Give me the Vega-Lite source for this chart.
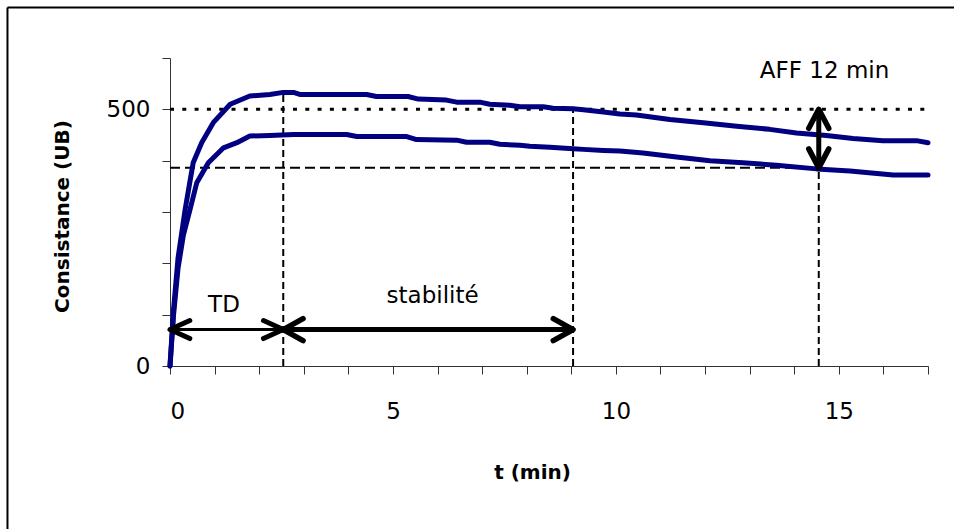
{
  "$schema": "https://vega.github.io/schema/vega-lite/v6.json",
  "autosize": {"type": "none"},
  "width": 758,
  "height": 308,
  "padding": {"left": 170, "top": 58, "right": 26, "bottom": 163},
  "background": "white",
  "config": {
    "view": {"stroke": null},
    "axis": {"labelFont": "DejaVu Sans", "labelFontSize": 23, "labelColor": "black", "titleFont": "DejaVu Sans", "titleFontSize": 20, "titleFontWeight": "bold", "titleColor": "black", "domainColor": "#333", "tickColor": "#333", "grid": false, "tickSize": 8}
  },
  "datasets": {
    "curves": [
      {"s": "A", "t": 0, "v": 0}, {"s": "A", "t": 0.08, "v": 110}, {"s": "A", "t": 0.18, "v": 210}, {"s": "A", "t": 0.34, "v": 305}, {"s": "A", "t": 0.52, "v": 396}, {"s": "A", "t": 0.71, "v": 435}, {"s": "A", "t": 0.97, "v": 474}, {"s": "A", "t": 1.35, "v": 510}, {"s": "A", "t": 1.79, "v": 526}, {"s": "A", "t": 2.24, "v": 529}, {"s": "A", "t": 2.54, "v": 533}, {"s": "A", "t": 2.77, "v": 533}, {"s": "A", "t": 2.91, "v": 529}, {"s": "A", "t": 4.41, "v": 529}, {"s": "A", "t": 4.63, "v": 525}, {"s": "A", "t": 5.34, "v": 525}, {"s": "A", "t": 5.57, "v": 520}, {"s": "A", "t": 6.2, "v": 518}, {"s": "A", "t": 6.43, "v": 514}, {"s": "A", "t": 6.95, "v": 514}, {"s": "A", "t": 7.17, "v": 510}, {"s": "A", "t": 7.62, "v": 508}, {"s": "A", "t": 7.85, "v": 505}, {"s": "A", "t": 8.37, "v": 505}, {"s": "A", "t": 8.59, "v": 502}, {"s": "A", "t": 9.04, "v": 501}, {"s": "A", "t": 9.27, "v": 499}, {"s": "A", "t": 9.72, "v": 495}, {"s": "A", "t": 10.09, "v": 491}, {"s": "A", "t": 10.46, "v": 489}, {"s": "A", "t": 11.21, "v": 480}, {"s": "A", "t": 11.96, "v": 474}, {"s": "A", "t": 12.71, "v": 467}, {"s": "A", "t": 13.45, "v": 461}, {"s": "A", "t": 14.05, "v": 454}, {"s": "A", "t": 14.72, "v": 449}, {"s": "A", "t": 15.32, "v": 443}, {"s": "A", "t": 15.99, "v": 439}, {"s": "A", "t": 16.74, "v": 439}, {"s": "A", "t": 17, "v": 435},
      {"s": "B", "t": 0, "v": 0}, {"s": "B", "t": 0.08, "v": 100}, {"s": "B", "t": 0.18, "v": 190}, {"s": "B", "t": 0.3, "v": 255}, {"s": "B", "t": 0.45, "v": 305}, {"s": "B", "t": 0.6, "v": 357}, {"s": "B", "t": 0.86, "v": 396}, {"s": "B", "t": 1.2, "v": 425}, {"s": "B", "t": 1.5, "v": 435}, {"s": "B", "t": 1.79, "v": 448}, {"s": "B", "t": 2.24, "v": 449}, {"s": "B", "t": 2.77, "v": 451}, {"s": "B", "t": 3.96, "v": 451}, {"s": "B", "t": 4.19, "v": 447}, {"s": "B", "t": 5.31, "v": 447}, {"s": "B", "t": 5.53, "v": 441}, {"s": "B", "t": 6.43, "v": 440}, {"s": "B", "t": 6.65, "v": 436}, {"s": "B", "t": 7.17, "v": 436}, {"s": "B", "t": 7.4, "v": 432}, {"s": "B", "t": 7.85, "v": 430}, {"s": "B", "t": 8.07, "v": 428}, {"s": "B", "t": 8.52, "v": 426}, {"s": "B", "t": 9.04, "v": 423}, {"s": "B", "t": 9.27, "v": 422}, {"s": "B", "t": 9.72, "v": 420}, {"s": "B", "t": 10.09, "v": 419}, {"s": "B", "t": 10.61, "v": 415}, {"s": "B", "t": 11.36, "v": 407}, {"s": "B", "t": 12.11, "v": 400}, {"s": "B", "t": 12.85, "v": 396}, {"s": "B", "t": 13.6, "v": 391}, {"s": "B", "t": 14.5, "v": 384}, {"s": "B", "t": 15.25, "v": 380}, {"s": "B", "t": 16.22, "v": 372}, {"s": "B", "t": 17, "v": 372}
    ],
    "refs": [
      {"kind": "dotted", "t": 0, "t2": 17, "v": 500, "v2": 500},
      {"kind": "dashed", "t": 0, "t2": 14.55, "v": 386, "v2": 386},
      {"kind": "vdash", "t": 2.54, "t2": 2.54, "v": 0, "v2": 533},
      {"kind": "vdash", "t": 9.04, "t2": 9.04, "v": 0, "v2": 501},
      {"kind": "vdash", "t": 14.55, "t2": 14.55, "v": 0, "v2": 386},
      {"kind": "thin", "t": 0, "t2": 2.54, "v": 71, "v2": 71},
      {"kind": "thick", "t": 2.54, "t2": 9.04, "v": 71, "v2": 71},
      {"kind": "thick", "t": 14.55, "t2": 14.55, "v": 386, "v2": 500},
      {"kind": "frame", "t": -3.645, "t2": -3.645, "v": -400, "v2": 698.4},
      {"kind": "frame", "t": -3.645, "t2": 30, "v": 698.4, "v2": 698.4}
    ],
    "heads": [
      {"arrow": "TD", "dir": "left", "t": 0, "v": 71},
      {"arrow": "TD", "dir": "right", "t": 2.54, "v": 71},
      {"arrow": "stab", "dir": "left", "t": 2.54, "v": 71},
      {"arrow": "stab", "dir": "right", "t": 9.04, "v": 71},
      {"arrow": "AFF", "dir": "up", "t": 14.55, "v": 500},
      {"arrow": "AFF", "dir": "down", "t": 14.55, "v": 386}
    ],
    "labels": [
      {"label": "TD", "t": 1.21, "v": 118},
      {"label": "stabilité", "t": 5.89, "v": 137},
      {"label": "AFF 12 min", "t": 14.68, "v": 575}
    ]
  },
  "layer": [
    {
      "data": {"name": "refs"},
      "transform": [{"filter": "datum.kind == 'frame'"}],
      "mark": {"type": "rule", "color": "black", "strokeWidth": 2, "clip": false},
      "encoding": {
        "x": {"field": "t", "type": "quantitative", "scale": {"domain": [0, 17], "nice": false, "zero": false}, "axis": {"values": [0,1,2,3,4,5,6,7,8,9,10,11,12,13,14,15,16,17], "labelExpr": "datum.value % 5 == 0 ? datum.label : ''", "labelPadding": 26, "title": "t (min)", "titleX": 362, "titleY": 106, "titleBaseline": "middle"}},
        "x2": {"field": "t2"},
        "y": {"field": "v", "type": "quantitative", "scale": {"domain": [0, 600], "nice": false}, "axis": {"values": [0,100,200,300,400,500,600], "labelExpr": "datum.value == 0 || datum.value == 500 ? datum.label : ''", "labelPadding": 12, "title": "Consistance (UB)", "titleX": -108, "titleY": 158, "titleBaseline": "middle"}},
        "y2": {"field": "v2"}
      }
    },
    {
      "data": {"name": "refs"},
      "transform": [{"filter": "datum.kind == 'dotted'"}],
      "mark": {"type": "rule", "color": "black", "strokeWidth": 3, "strokeDash": [4, 8.3]},
      "encoding": {"x": {"field": "t", "type": "quantitative"}, "x2": {"field": "t2"}, "y": {"field": "v", "type": "quantitative"}, "y2": {"field": "v2"}}
    },
    {
      "data": {"name": "refs"},
      "transform": [{"filter": "datum.kind == 'dashed'"}],
      "mark": {"type": "rule", "color": "black", "strokeWidth": 2, "strokeDash": [10, 5]},
      "encoding": {"x": {"field": "t", "type": "quantitative"}, "x2": {"field": "t2"}, "y": {"field": "v", "type": "quantitative"}, "y2": {"field": "v2"}}
    },
    {
      "data": {"name": "refs"},
      "transform": [{"filter": "datum.kind == 'vdash'"}],
      "mark": {"type": "rule", "color": "black", "strokeWidth": 2, "strokeDash": [7, 4]},
      "encoding": {"x": {"field": "t", "type": "quantitative"}, "x2": {"field": "t2"}, "y": {"field": "v", "type": "quantitative"}, "y2": {"field": "v2"}}
    },
    {
      "data": {"name": "curves"},
      "mark": {"type": "line", "color": "#000080", "strokeWidth": 5, "strokeJoin": "round", "strokeCap": "round"},
      "encoding": {"x": {"field": "t", "type": "quantitative"}, "y": {"field": "v", "type": "quantitative"}, "detail": {"field": "s"}}
    },
    {
      "data": {"name": "refs"},
      "transform": [{"filter": "datum.kind == 'thin'"}],
      "mark": {"type": "rule", "color": "black", "strokeWidth": 3},
      "encoding": {"x": {"field": "t", "type": "quantitative"}, "x2": {"field": "t2"}, "y": {"field": "v", "type": "quantitative"}, "y2": {"field": "v2"}}
    },
    {
      "data": {"name": "refs"},
      "transform": [{"filter": "datum.kind == 'thick'"}],
      "mark": {"type": "rule", "color": "black", "strokeWidth": 5},
      "encoding": {"x": {"field": "t", "type": "quantitative"}, "x2": {"field": "t2"}, "y": {"field": "v", "type": "quantitative"}, "y2": {"field": "v2"}}
    },
    {
      "data": {"name": "heads"},
      "transform": [{"filter": "datum.arrow == 'TD' && datum.dir == 'left'"}],
      "mark": {"type": "point", "shape": "M-2.2,-1L0,0L-2.2,1", "angle": 180, "filled": false, "color": "black", "strokeWidth": 5, "strokeCap": "round", "strokeJoin": "round", "size": 324, "opacity": 1},
      "encoding": {"x": {"field": "t", "type": "quantitative"}, "y": {"field": "v", "type": "quantitative"}}
    },
    {
      "data": {"name": "heads"},
      "transform": [{"filter": "datum.arrow == 'TD' && datum.dir == 'right'"}],
      "mark": {"type": "point", "shape": "M-2.2,-1L0,0L-2.2,1", "angle": 0, "filled": false, "color": "black", "strokeWidth": 5, "strokeCap": "round", "strokeJoin": "round", "size": 324, "opacity": 1},
      "encoding": {"x": {"field": "t", "type": "quantitative"}, "y": {"field": "v", "type": "quantitative"}}
    },
    {
      "data": {"name": "heads"},
      "transform": [{"filter": "datum.arrow != 'TD' && datum.dir == 'left'"}],
      "mark": {"type": "point", "shape": "M-1.8,-1L0,0L-1.8,1", "angle": 180, "filled": false, "color": "black", "strokeWidth": 5.5, "strokeCap": "round", "strokeJoin": "round", "size": 484, "opacity": 1},
      "encoding": {"x": {"field": "t", "type": "quantitative"}, "y": {"field": "v", "type": "quantitative"}}
    },
    {
      "data": {"name": "heads"},
      "transform": [{"filter": "datum.arrow != 'TD' && datum.dir == 'right'"}],
      "mark": {"type": "point", "shape": "M-1.8,-1L0,0L-1.8,1", "angle": 0, "filled": false, "color": "black", "strokeWidth": 5.5, "strokeCap": "round", "strokeJoin": "round", "size": 484, "opacity": 1},
      "encoding": {"x": {"field": "t", "type": "quantitative"}, "y": {"field": "v", "type": "quantitative"}}
    },
    {
      "data": {"name": "heads"},
      "transform": [{"filter": "datum.dir == 'up'"}],
      "mark": {"type": "point", "shape": "M-1.9,-1L0,0L-1.9,1", "angle": 270, "filled": false, "color": "black", "strokeWidth": 5.5, "strokeCap": "round", "strokeJoin": "round", "size": 400, "opacity": 1},
      "encoding": {"x": {"field": "t", "type": "quantitative"}, "y": {"field": "v", "type": "quantitative"}}
    },
    {
      "data": {"name": "heads"},
      "transform": [{"filter": "datum.dir == 'down'"}],
      "mark": {"type": "point", "shape": "M-1.9,-1L0,0L-1.9,1", "angle": 90, "filled": false, "color": "black", "strokeWidth": 5.5, "strokeCap": "round", "strokeJoin": "round", "size": 400, "opacity": 1},
      "encoding": {"x": {"field": "t", "type": "quantitative"}, "y": {"field": "v", "type": "quantitative"}}
    },
    {
      "data": {"name": "labels"},
      "mark": {"type": "text", "font": "DejaVu Sans", "fontSize": 23, "color": "black", "baseline": "middle", "align": "center"},
      "encoding": {"x": {"field": "t", "type": "quantitative"}, "y": {"field": "v", "type": "quantitative"}, "text": {"field": "label"}}
    }
  ]
}
